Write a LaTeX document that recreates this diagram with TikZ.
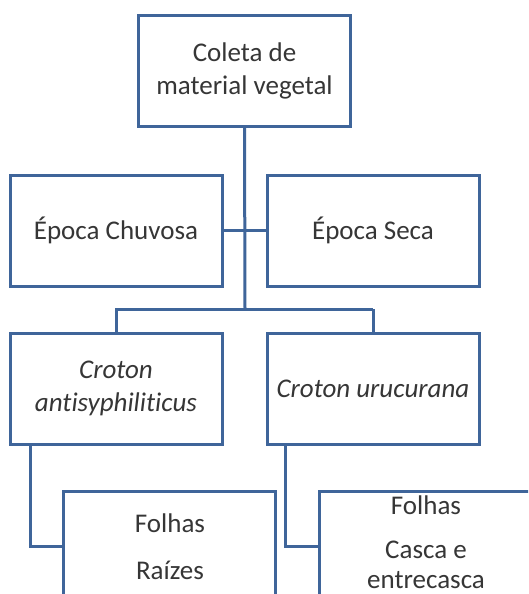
\documentclass[tikz,border=0pt]{standalone}
\usepackage{fontspec}
\setmainfont{Carlito}[Ligatures=NoCommon]
\usetikzlibrary{calc}
\definecolor{lineblue}{HTML}{3F659A}
\definecolor{txt}{HTML}{363636}
\tikzset{
  box/.style={draw=lineblue, line width=3pt, fill=white, rectangle, minimum width=212pt, minimum height=111pt, inner sep=0pt, text=txt, align=center, font=\fontsize{27}{33}\selectfont},
  conn/.style={draw=lineblue, line width=3pt},
  lbl/.style={text=txt, font=\fontsize{27}{33}\selectfont, inner sep=0pt}
}
\begin{document}
\begin{tikzpicture}[x=1pt,y=-1pt]
\useasboundingbox (0,0) rectangle (528,594);
\fill[white] (0,0) rectangle (528,594);
\clip (0,0) rectangle (528,594);
\node[box] (top) at (244.5,71) {Coleta de\\material vegetal};
\node[box] (chu) at (116,230.5) {Época Chuvosa};
\node[box] (sec) at (373,230.5) {Época Seca};
\node[box] (ca) at (116,388.5) {\itshape Croton\\\itshape antisyphiliticus};
\node[box] (cu) at (373,388.5) {\itshape Croton urucurana};
\coordinate (bus) at (245,309);
\draw[conn] (top.south) -- (bus);
\draw[conn] (chu.east) -- (sec.west);
\draw[conn] (115,309) -| (ca.north);
\draw[conn] (373,309) -| (cu.north);
\draw[conn] (115,309) -- (373,309);
\node[box] (fl) at (169,546.5) {};
\node[box] (fr) at (425,546.5) {};
\draw[conn] ($(ca.south west)+(22,0)$) |- (fl.west);
\draw[conn] ($(cu.south west)+(20,0)$) |- (fr.west);
\node[lbl] (f1) at (170,523) {Folhas};
\node[lbl] (r1) at (170,570) {Raízes};
\node[lbl] (f2) at (426,505) {Folhas};
\node[lbl] (c2) at (426,550) {Casca e};
\node[lbl] (e2) at (426,580) {entrecasca};
\end{tikzpicture}
\end{document}
